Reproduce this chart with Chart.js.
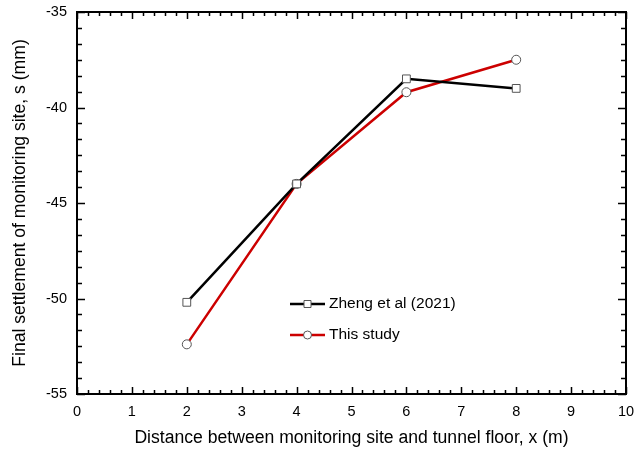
<html lang="en">
<head>
  <meta charset="UTF-8">
  <script src="https://cdn.jsdelivr.net/npm/chart.js@4.4.0/dist/chart.umd.min.js"></script>
  <title>Final settlement vs distance</title>
  <style>
    body { margin: 0; background: #fff; }
  </style>
</head>
<body>
  <canvas id="myChart" width="634" height="456"></canvas>
  <script>
    const distances = [2, 4, 6, 8];
    const zhengSettlement = [-50.2, -44.0, -38.5, -39.0];
    const studySettlement = [-52.4, -44.0, -39.2, -37.5];
    const seriesNames = ['Zheng et al (2021)', 'This study'];
    const xTitle = 'Distance between monitoring site and tunnel floor, x (m)';
    const yTitle = 'Final settlement of monitoring site, s (mm)';

    const FONT = "'Liberation Sans', Arial, sans-serif";

    // frame, inside ticks on all four sides, and the in-plot legend
    const framePlugin = {
      id: 'frame',
      afterDatasetsDraw(chart) {
        const ctx = chart.ctx;
        const a = chart.chartArea;
        const xs = chart.scales.x;
        const ys = chart.scales.y;
        ctx.save();
        ctx.strokeStyle = '#000';
        ctx.lineWidth = 2;
        ctx.strokeRect(a.left, a.top, a.right - a.left, a.bottom - a.top);

        ctx.lineWidth = 1.5;
        ctx.beginPath();
        for (let i = 0; i <= 50; i++) {
          const v = i * 0.2;
          const px = Math.round(xs.getPixelForValue(v)) + 0.5;
          const len = i % 5 === 0 ? 7 : 4;
          ctx.moveTo(px, a.bottom); ctx.lineTo(px, a.bottom - len);
          ctx.moveTo(px, a.top); ctx.lineTo(px, a.top + len);
        }
        for (let i = 0; i <= 24; i++) {
          const v = -55 + i * 5 / 6;
          const py = Math.round(ys.getPixelForValue(v)) + 0.5;
          const len = i % 6 === 0 ? 8 : 5;
          ctx.moveTo(a.left, py); ctx.lineTo(a.left + len, py);
          ctx.moveTo(a.right, py); ctx.lineTo(a.right - len, py);
        }
        ctx.stroke();

        // legend
        const items = [
          { name: seriesNames[0], color: '#000', style: 'rect', y: 304 },
          { name: seriesNames[1], color: '#cc0000', style: 'circle', y: 335 }
        ];
        items.forEach(it => {
          ctx.strokeStyle = it.color;
          ctx.lineWidth = 2.5;
          ctx.beginPath();
          ctx.moveTo(290, it.y); ctx.lineTo(325, it.y);
          ctx.stroke();
          ctx.fillStyle = '#fff';
          ctx.strokeStyle = '#555';
          ctx.lineWidth = 1;
          ctx.beginPath();
          if (it.style === 'rect') {
            ctx.rect(304, it.y - 3.5, 7, 7);
          } else {
            ctx.arc(307.5, it.y, 4, 0, Math.PI * 2);
          }
          ctx.fill();
          ctx.stroke();
          ctx.fillStyle = '#000';
          ctx.font = '15.5px ' + FONT;
          ctx.textBaseline = 'middle';
          ctx.textAlign = 'left';
          ctx.fillText(it.name, 329, it.y);
        });
        ctx.restore();
      }
    };

    const ctx = document.getElementById('myChart').getContext('2d');
    const myChart = new Chart(ctx, {
      type: 'line',
      data: {
        datasets: [
          {
            label: seriesNames[0],
            data: distances.map((x, i) => ({ x: x, y: zhengSettlement[i] })),
            borderColor: '#000',
            borderWidth: 2.5,
            pointStyle: 'rect',
            pointRadius: 5.5,
            pointBorderWidth: 1,
            pointBorderColor: '#555',
            pointBackgroundColor: '#fff',
            tension: 0
          },
          {
            label: seriesNames[1],
            data: distances.map((x, i) => ({ x: x, y: studySettlement[i] })),
            borderColor: '#cc0000',
            borderWidth: 2.5,
            pointStyle: 'circle',
            pointRadius: 4.5,
            pointBorderWidth: 1,
            pointBorderColor: '#555',
            pointBackgroundColor: '#fff',
            tension: 0
          }
        ]
      },
      options: {
        responsive: false,
        animation: false,
        layout: { autoPadding: false, padding: { top: 12, right: 8, left: 0, bottom: 0 } },
        plugins: { legend: { display: false }, tooltip: { enabled: false } },
        scales: {
          x: {
            type: 'linear',
            min: 0,
            max: 10,
            afterFit(scale) {
              scale.height = 62;
              scale.paddingLeft = 0;
              scale.paddingRight = 0;
            },
            grid: { display: false, drawTicks: false },
            border: { display: false },
            ticks: {
              stepSize: 1,
              padding: 9,
              color: '#000',
              font: { family: FONT, size: 14.5 }
            },
            title: {
              display: true,
              text: xTitle,
              color: '#000',
              font: { family: FONT, size: 17.6 },
              padding: { top: 0, bottom: 7 }
            }
          },
          y: {
            type: 'linear',
            min: -55,
            max: -35,
            afterFit(scale) {
              scale.width = 77;
              scale.paddingTop = 0;
              scale.paddingBottom = 0;
            },
            grid: { display: false, drawTicks: false },
            border: { display: false },
            ticks: {
              stepSize: 5,
              padding: 10,
              color: '#000',
              font: { family: FONT, size: 14.5 }
            },
            title: {
              display: true,
              text: yTitle,
              color: '#000',
              font: { family: FONT, size: 17.6 },
              padding: { top: 10, bottom: 0 }
            }
          }
        }
      },
      plugins: [framePlugin]
    });
  </script>
</body>
</html>
